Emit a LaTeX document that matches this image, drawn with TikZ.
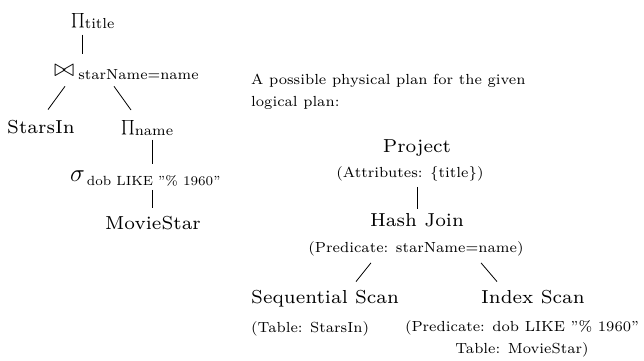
\documentclass[tikz,border=0pt]{standalone}
\usepackage{amsmath}
\usetikzlibrary{positioning}
% small optical size of Latin Modern, set large
\DeclareFontFamily{TU}{lmrseven}{}
\DeclareFontShape{TU}{lmrseven}{m}{n}{<-> "[lmroman7-regular.otf]:mapping=tex-text"}{}
\DeclareMathSizes{18.8}{18.8}{14.5}{11.5}
\tikzstyle{op} = [draw=none, inner sep=0, font=\fontfamily{lmrseven}\fontsize{18.8}{22}\selectfont]
\tikzstyle{note} = [draw=none, inner sep=0, font=\fontfamily{lmrseven}\fontsize{14.6}{21.5}\selectfont]
\tikzstyle{edge} = [-, line width=0.8pt]
\newcommand{\bigsym}[2]{\mbox{\fontsize{#1}{#1}\selectfont$#2$}}

\begin{document}
\begin{tikzpicture}[x=1pt, y=-1pt]
\useasboundingbox (0, 0) rectangle (644, 360);
% logical plan
\node [op, anchor=base west] (ptitle) at (71, 24) {$\bigsym{14}{\prod}_{\text{title}}$};
\node [op, anchor=base west] (join) at (54, 76) {$\bigsym{27}{\bowtie}_{\hspace{4pt}\text{starName=name}}$};
\node [op, anchor=base west] (stars) at (7, 133) {StarsIn};
\node [op, anchor=base west] (pname) at (121, 131) {$\bigsym{15}{\prod}_{\text{name}}$};
\node [op, anchor=base west] (sel) at (70, 181) {$\bigsym{36}{\sigma}_{\hspace{2pt}\text{\fontsize{13.3}{15}\selectfont dob LIKE "\%~1960"}}$};
\node [op, anchor=base] (movie) at (153, 229) {MovieStar};
\draw [edge] ([xshift=11pt, yshift=-6pt]ptitle.south west) to ([xshift=28pt, yshift=10pt]join.north west);
\draw [edge] ([xshift=11pt, yshift=-6pt]join.south west) to ([xshift=41pt, yshift=10pt]stars.north west);
\draw [edge] ([xshift=60pt, yshift=-6pt]join.south west) to ([xshift=10pt, yshift=10pt]pname.north west);
\draw [edge] ([xshift=31pt, yshift=-4pt]pname.south west) to ([xshift=82pt, yshift=6pt]sel.north west);
\draw [edge] ([xshift=82pt, yshift=-4pt]sel.south west) to ([xshift=-1pt, yshift=8pt]movie.north);

% physical plan
\node [note, anchor=base west, align=left] (desc) at (251, 106) {A possible physical plan for the given\\logical plan:};
\node [op, anchor=base] (proj) at (417, 152) {Project};
\node [note, anchor=base] (projattr) at (410, 177) {(Attributes: \{title\})};
\node [op, anchor=base] (hash) at (417, 226) {Hash Join};
\node [note, anchor=base] (hashpred) at (416, 252) {(Predicate: starName=name)};
\node [op, anchor=base west] (seq) at (251, 303) {Sequential Scan};
\node [op, anchor=base west] (idx) at (481, 303) {Index Scan};
\node [note, anchor=base west] (seqtab) at (251, 332) {(Table: StarsIn)};
\node [note, anchor=base, align=center] (idxpred) at (522, 353) {(Predicate: dob LIKE "\%~1960"\\Table: MovieStar)};
\draw [edge] ([yshift=-6pt]hash.north |- projattr.south) to ([yshift=4pt]hash.north);
\draw [edge] ([xshift=-45pt, yshift=-7pt]hashpred.south) to ([xshift=105pt, yshift=8pt]seq.north west);
\draw [edge] ([xshift=65pt, yshift=-7pt]hashpred.south) to ([xshift=16pt, yshift=8pt]idx.north west);
\end{tikzpicture}
\end{document}
